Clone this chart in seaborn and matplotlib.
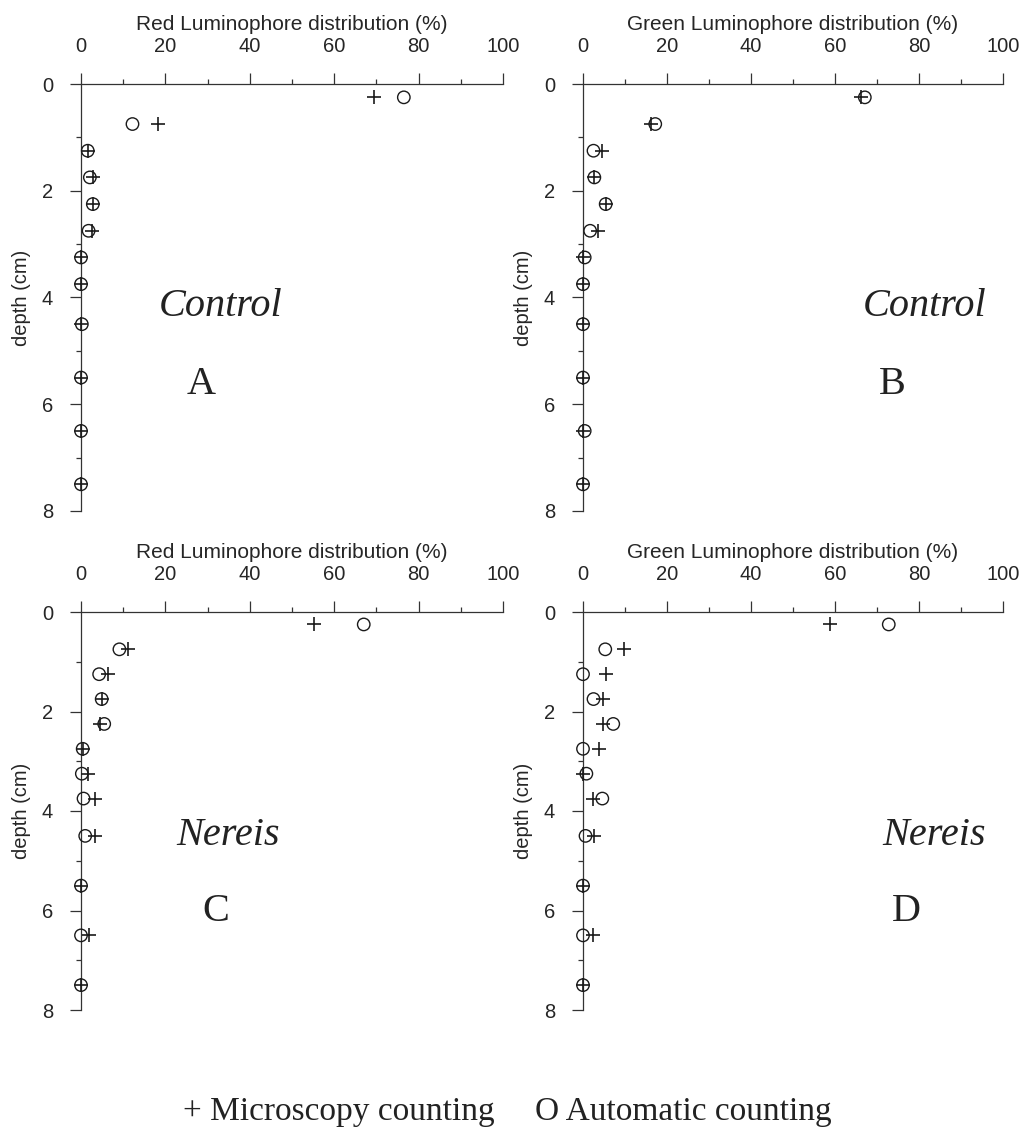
import matplotlib
matplotlib.use("Agg")
import matplotlib.pyplot as plt
import seaborn as sns
from matplotlib.ticker import MultipleLocator

sns.set_style("ticks")
plt.rcParams['font.family'] = ['Liberation Sans', 'DejaVu Sans']

# depth of each slice (cm)
depth = [0.25, 0.75, 1.25, 1.75, 2.25, 2.75, 3.25, 3.75, 4.5, 5.5, 6.5, 7.5]

# Red luminophores, control
red_ctrl_micro = [69.5, 18.2, 1.6, 2.8, 2.8, 2.5, 0, 0, 0, 0, 0, 0]
red_ctrl_auto = [76.5, 12.2, 1.6, 2.1, 2.8, 1.8, 0, 0, 0.2, 0, 0, 0]
# Green luminophores, control
green_ctrl_micro = [66.1, 16.1, 4.6, 2.7, 5.4, 3.5, 0, 0, 0, 0, 0, 0]
green_ctrl_auto = [67.1, 17.2, 2.5, 2.7, 5.4, 1.7, 0.4, 0, 0, 0, 0.4, 0]
# Red luminophores, Nereis
red_ner_micro = [55.1, 11.1, 6.3, 4.9, 4.5, 0.4, 1.6, 3.2, 3.2, 0, 1.8, 0]
red_ner_auto = [67.0, 9.1, 4.3, 4.9, 5.5, 0.4, 0.2, 0.6, 1.0, 0, 0, 0]
# Green luminophores, Nereis
green_ner_micro = [58.9, 9.8, 5.5, 4.7, 4.7, 3.7, 0, 2.4, 2.5, 0, 2.4, 0]
green_ner_auto = [72.8, 5.3, 0, 2.5, 7.2, 0, 0.8, 4.6, 0.6, 0, 0, 0]

W, H = 1029, 1136
fig = plt.figure(figsize=(W / 100, H / 100), dpi=100)


def px_axes(left, top, right, bottom):
    return fig.add_axes([left / W, 1 - bottom / H, (right - left) / W, (bottom - top) / H])


def draw_panel(ax, micro, auto, xlabel, treat, letter, treat_xy, letter_xy):
    sns.scatterplot(x=auto, y=depth, ax=ax, marker='o', s=80, facecolor='none',
                    edgecolor='#1a1a1a', linewidth=1.0, clip_on=False, zorder=3)
    sns.scatterplot(x=micro, y=depth, ax=ax, marker='+', s=110, color='#1a1a1a',
                    linewidth=1.2, clip_on=False, zorder=4)
    ax.set_xlim(0, 100)
    ax.set_ylim(8, 0)
    ax.xaxis.tick_top()
    ax.xaxis.set_label_position('top')
    ax.set_xlabel(xlabel, fontsize=15, labelpad=5)
    ax.set_ylabel('depth (cm)', fontsize=14.5, labelpad=8)
    ax.xaxis.set_major_locator(MultipleLocator(20))
    ax.xaxis.set_minor_locator(MultipleLocator(10))
    ax.yaxis.set_major_locator(MultipleLocator(2))
    ax.yaxis.set_minor_locator(MultipleLocator(1))
    ax.tick_params(axis='both', which='major', labelsize=14.5, length=8, width=0.9,
                   color='#333333', pad=12)
    ax.tick_params(axis='both', which='minor', length=3.5, width=0.9, color='#333333')
    ax.tick_params(axis='x', which='both', top=True, bottom=False)
    for side in ['bottom', 'right']:
        ax.spines[side].set_visible(False)
    for side in ['top', 'left']:
        ax.spines[side].set_linewidth(0.9)
        ax.spines[side].set_color('#333333')
    ax.text(treat_xy[0], treat_xy[1], treat, family='Liberation Serif', style='italic',
            fontsize=29, ha='center', va='center', color='#222222')
    ax.text(letter_xy[0], letter_xy[1], letter, family='Liberation Serif',
            fontsize=29, ha='center', va='center', color='#222222')


ax_a = px_axes(81, 84, 503, 511)
ax_b = px_axes(583, 84, 1003, 511)
ax_c = px_axes(81, 612, 503, 1010)
ax_d = px_axes(583, 612, 1003, 1010)

draw_panel(ax_a, red_ctrl_micro, red_ctrl_auto, 'Red Luminophore distribution (%)',
           'Control', 'A', (33, 4.16), (28.4, 5.63))
draw_panel(ax_b, green_ctrl_micro, green_ctrl_auto, 'Green Luminophore distribution (%)',
           'Control', 'B', (81.4, 4.16), (73.6, 5.63))
draw_panel(ax_c, red_ner_micro, red_ner_auto, 'Red Luminophore distribution (%)',
           'Nereis', 'C', (34.8, 4.5), (32, 6.03))
draw_panel(ax_d, green_ner_micro, green_ner_auto, 'Green Luminophore distribution (%)',
           'Nereis', 'D', (83.6, 4.5), (77.1, 6.03))

# legend line at the bottom
fig.text(183 / W, 1 - 1112 / H, '+ Microscopy counting', family='Liberation Serif',
         fontsize=24, ha='left', va='center', color='#222222')
fig.text(535 / W, 1 - 1112 / H, 'O Automatic counting', family='Liberation Serif',
         fontsize=24, ha='left', va='center', color='#222222')

fig.savefig('out.png', dpi=100)
